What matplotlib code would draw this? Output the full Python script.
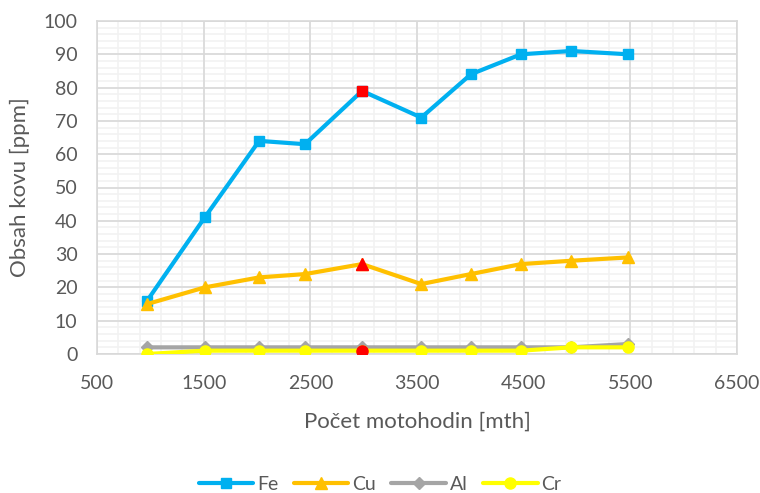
import matplotlib
matplotlib.use('Agg')
import matplotlib.pyplot as plt
import numpy as np

plt.rcParams['font.family'] = ['Lato', 'DejaVu Sans']

# hodnoty
mth = [970, 1510, 2020, 2450, 2985, 3540, 4005, 4475, 4945, 5480]
fe = [16, 41, 64, 63, 79, 71, 84, 90, 91, 90]
cu = [15, 20, 23, 24, 27, 21, 24, 27, 28, 29]
al = [2, 2, 2, 2, 2, 2, 2, 2, 2, 3]
cr = [0, 1, 1, 1, 1, 1, 1, 1, 2, 2]
x_ticks = [500, 1500, 2500, 3500, 4500, 5500, 6500]
y_ticks = [0, 10, 20, 30, 40, 50, 60, 70, 80, 90, 100]
red_idx = 4  # bod zvyrazneny cervene

series = [
    ('Fe', fe, '#00B0F0', 's', 7.5),
    ('Cu', cu, '#FFC000', '^', 8),
    ('Al', al, '#A5A5A5', 'D', 6),
    ('Cr', cr, '#FFFF00', 'o', 8),
]

fig = plt.figure(figsize=(7.6, 4.93), dpi=100)
ax = fig.add_axes([97 / 760, 1 - 354 / 493, 640 / 760, 333 / 493])

# mrizka: vedlejsi pod hlavni
for x in np.arange(500, 6501, 200):
    ax.axvline(x, color='#F2F2F2', lw=1.2, zorder=0.5)
for y in np.arange(0, 101, 2):
    ax.axhline(y, color='#F2F2F2', lw=1.2, zorder=0.5)
for x in x_ticks:
    ax.axvline(x, color='#D9D9D9', lw=1.2, zorder=1)
for y in y_ticks:
    ax.axhline(y, color='#D9D9D9', lw=1.2, zorder=1)

for i, (name, vals, col, mk, ms) in enumerate(series):
    ax.plot(mth, vals, color=col, lw=3, marker=mk, ms=ms, label=name,
            zorder=3 + i, solid_capstyle='round')
    if name != 'Al':
        ax.plot(mth[red_idx], vals[red_idx], marker=mk, ms=ms, color='#FF0000',
                ls='none', zorder=3 + i + 0.5)

ax.set_xlim(500, 6500)
ax.set_ylim(0, 100)
ax.set_xticks(x_ticks)
ax.set_yticks(y_ticks)
ax.tick_params(which='both', length=0)
ax.tick_params(labelsize=14, colors='#595959')
ax.tick_params(axis='y', pad=14)
ax.tick_params(axis='x', pad=15)
for s in ax.spines.values():
    s.set_color('#D9D9D9')
    s.set_linewidth(1.2)

ax.set_xlabel('Počet motohodin [mth]', fontsize=16, color='#595959', labelpad=14)
ax.set_ylabel('Obsah kovu [ppm]', fontsize=16, color='#595959', labelpad=10)

ax.legend(loc='center', bbox_to_anchor=(0.5, 1 - 484 / 493), bbox_transform=fig.transFigure,
          ncol=4, frameon=False, fontsize=14, labelcolor='#595959', handlelength=2.8,
          columnspacing=0.8, handletextpad=0.2)

fig.savefig('out.png', dpi=100)
